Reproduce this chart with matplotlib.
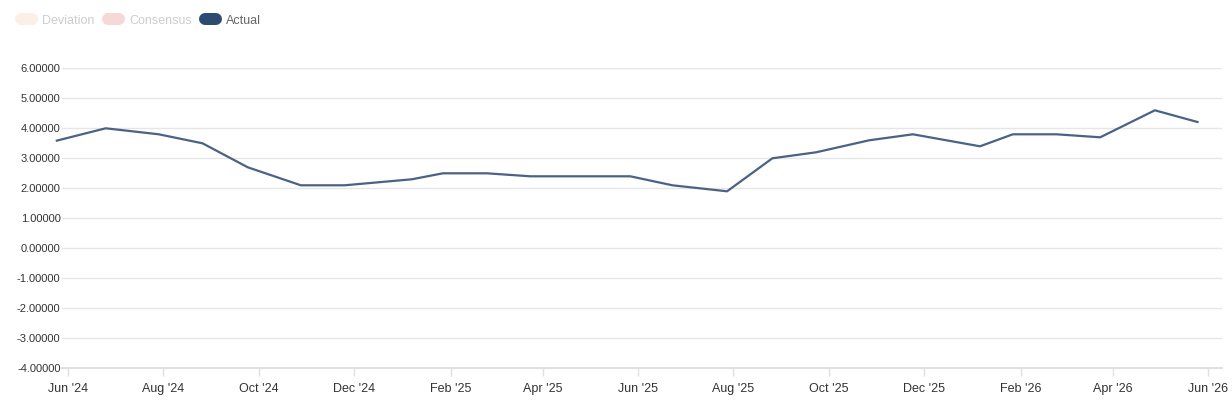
import matplotlib
matplotlib.use("Agg")
import matplotlib.pyplot as plt
import matplotlib.dates as mdates
from matplotlib.lines import Line2D
import datetime as dt

plt.rcParams["font.family"] = ["Liberation Sans", "DejaVu Sans"]

# ---- data ----
dates = ["2024-05-24", "2024-06-25", "2024-07-29", "2024-08-26", "2024-09-24",
         "2024-10-28", "2024-11-25", "2025-01-07", "2025-01-27", "2025-02-24",
         "2025-03-24", "2025-04-28", "2025-05-27", "2025-06-23", "2025-07-28",
         "2025-08-26", "2025-09-23", "2025-10-27", "2025-11-24", "2026-01-06",
         "2026-01-27", "2026-02-24", "2026-03-24", "2026-04-28", "2026-05-26"]
actual = [3.58, 4.0, 3.8, 3.5, 2.7,
          2.1, 2.1, 2.3, 2.5, 2.5,
          2.4, 2.4, 2.4, 2.1, 1.9,
          3.0, 3.2, 3.6, 3.8, 3.4,
          3.8, 3.8, 3.7, 4.6, 4.2]
legend_labels = ["Deviation", "Consensus", "Actual"]
legend_colors = ["#fbefe6", "#f6d8d8", "#2d4a73"]
legend_text_colors = ["#cccccc", "#cccccc", "#666666"]
y_ticks = [-4, -3, -2, -1, 0, 1, 2, 3, 4, 5, 6]

W, H = 1232, 400
fig = plt.figure(figsize=(W / 100, H / 100), dpi=100)

def fx(px):
    return px / W

def fy(py):
    return 1 - py / H

ax_left, ax_right, ax_top, ax_bottom = 62, 1222, 68.3, 368.3
ax = fig.add_axes([fx(ax_left), fy(ax_bottom), fx(ax_right - ax_left), (ax_bottom - ax_top) / H])

x = [dt.datetime.strptime(d, "%Y-%m-%d") for d in dates]
ax.plot(x, actual, color="#4a6385", lw=1.6, solid_joinstyle="round",
        solid_capstyle="butt", zorder=3, clip_on=False)

ax.set_xlim(dt.datetime(2024, 5, 28), dt.datetime(2026, 6, 10))
ax.set_ylim(-4, 6)
ax.set_yticks(y_ticks)
ax.set_yticklabels([f"{v:.5f}" for v in y_ticks])
ax.grid(axis="y", color="#e6e6e6", lw=1)
ax.set_axisbelow(True)

xt = [dt.datetime(2024 + (6 + 2 * i - 1) // 12, (6 + 2 * i - 1) % 12 + 1, 1) for i in range(13)]
ax.set_xticks(xt)
ax.xaxis.set_major_formatter(mdates.DateFormatter("%b '%y"))

for s in ["top", "right", "left"]:
    ax.spines[s].set_visible(False)
ax.spines["bottom"].set_color("#e0e0e0")
ax.spines["bottom"].set_linewidth(1.5)

ax.tick_params(axis="y", length=0, pad=1, labelsize=8, labelcolor="#333333")
ax.tick_params(axis="x", length=6, width=1, color="#e0e0e0", pad=4.5,
               labelsize=9, labelcolor="#333333")

# legend pills
pill_x = [15, 102, 199]
text_x = [42, 129, 226]
for lab, c, tc, px, tx in zip(legend_labels, legend_colors, legend_text_colors, pill_x, text_x):
    ln = Line2D([fx(px + 6), fx(px + 17)], [fy(18.5), fy(18.5)], transform=fig.transFigure,
                color=c, lw=12 * 0.72, solid_capstyle="round")
    fig.lines.append(ln)
    fig.text(fx(tx), fy(20.5), lab, color=tc, fontsize=9, va="center", ha="left")

fig.savefig("out.png", dpi=100)
